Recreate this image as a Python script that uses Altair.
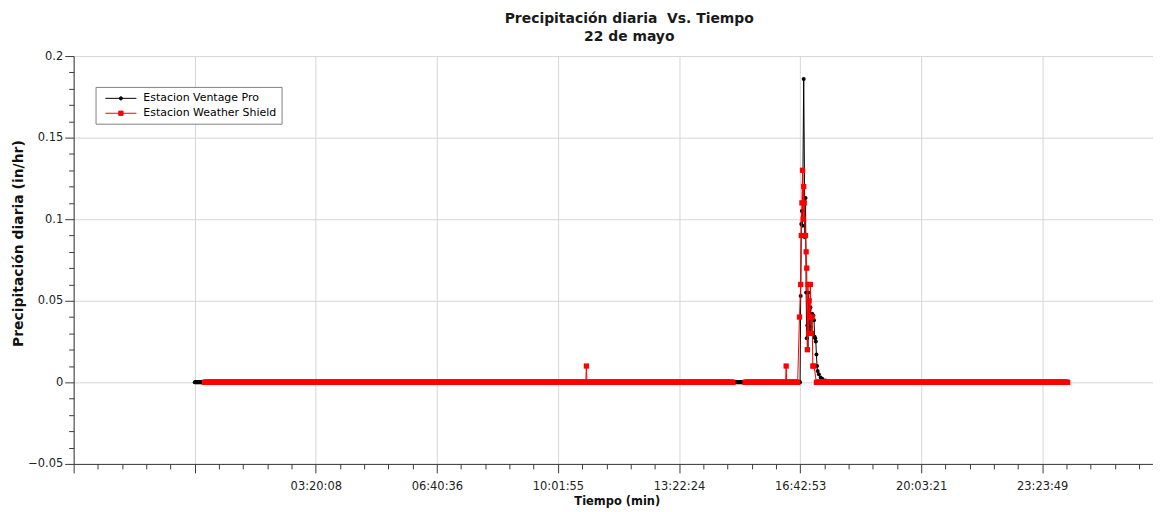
import altair as alt
import pandas as pd

TITLE_LINES = ["Precipitación diaria\u00a0\u00a0Vs. Tiempo", "22 de mayo"]
X_TITLE = "Tiempo (min)"
Y_TITLE = "Precipitación diaria (in/hr)"
SERIES = ["Estacion Ventage Pro", "Estacion Weather Shield"]
COLORS = ["#000000", "#ff0000"]

# x = minutes counted from the first (unlabelled) grid line
X_DOMAIN = [-200, 1583]
X_MAJOR = [-200, 0, 200, 400, 600, 800, 1000, 1200, 1400]
X_LABELS = ["", "", "03:20:08", "06:40:36", "10:01:55", "13:22:24",
            "16:42:53", "20:03:21", "23:23:49"]
X_MINOR = [-160, -120, -80, -40, 40, 80, 120, 160, 240, 280, 320, 360,
           440, 480, 520, 560, 640, 680, 720, 760, 840, 880, 920, 960,
           1040, 1080, 1120, 1160, 1240, 1280, 1320, 1360, 1440, 1480,
           1520, 1560]
Y_DOMAIN = [-0.05, 0.2]
Y_MAJOR = [-0.05, 0, 0.05, 0.1, 0.15, 0.2]
Y_LABELS = ["\u22120.05", "0", "0.05", "0.1", "0.15", "0.2"]
Y_MINOR = [-0.04, -0.03, -0.02, -0.01, 0.01, 0.02, 0.03, 0.04,
           0.06, 0.07, 0.08, 0.09, 0.11, 0.12, 0.13, 0.14,
           0.16, 0.17, 0.18, 0.19]

# Estacion Ventage Pro (one reading per minute)
VP_ZERO_SPANS = [(0, 999), (1049, 1442)]
VP_PEAK_T = [1000, 1001, 1002, 1003, 1004, 1006, 1008, 1009, 1010, 1011,
             1012, 1013, 1014, 1015, 1016, 1017, 1018, 1020, 1022, 1023,
             1024, 1025, 1026, 1027, 1028, 1029, 1031, 1034, 1037, 1042, 1048]
VP_PEAK_V = [0.0, 0.053, 0.097, 0.105, 0.096, 0.186, 0.089, 0.113, 0.055, 0.027,
             0.035, 0.020, 0.055, 0.032, 0.045, 0.046, 0.034, 0.042, 0.041, 0.038,
             0.028, 0.027, 0.025, 0.017, 0.010, 0.007, 0.005, 0.003, 0.002, 0.0012, 0.0004]

# Estacion Weather Shield (one reading per minute, gap 890-908)
WS_ZERO_SPANS = [(16, 889), (909, 996), (1027, 1442)]
WS_SPIKE_T = [647, 977]
WS_SPIKE_V = [0.01, 0.01]
WS_PEAK_T = [999, 1001, 1002, 1003, 1004, 1005, 1006, 1007, 1009, 1010, 1011,
             1012, 1013, 1014, 1015, 1016, 1017, 1018, 1019, 1020, 1021, 1023]
WS_PEAK_V = [0.04, 0.06, 0.09, 0.11, 0.13, 0.10, 0.12, 0.11, 0.09, 0.08, 0.07,
             0.02, 0.06, 0.03, 0.05, 0.04, 0.06, 0.04, 0.03, 0.04, 0.01, 0.01]
WS_GAP = (889, 909)


def build(zero_spans, extra_t, extra_v):
    vals = {}
    for a, b in zero_spans:
        for t in range(a, b + 1):
            vals[t] = 0.0
    for t, v in zip(extra_t, extra_v):
        vals[t] = v
    ts = sorted(vals)
    return pd.DataFrame({"t": ts, "v": [vals[t] for t in ts]})


vp = build(VP_ZERO_SPANS, VP_PEAK_T, VP_PEAK_V)
vp["seg"] = 0
ws = build(WS_ZERO_SPANS, WS_SPIKE_T + WS_PEAK_T, WS_SPIKE_V + WS_PEAK_V)
ws["seg"] = (ws["t"] >= WS_GAP[1]).astype(int)

FONT = "DejaVu Sans"
AX = "#3a3a3a"

x_scale = alt.Scale(domain=X_DOMAIN, nice=False, zero=False)
y_scale = alt.Scale(domain=Y_DOMAIN, nice=False, zero=False)

x_lab_expr = "%s[round((datum.value + 200) / 200)]" % str(X_LABELS)
y_lab_expr = "%s[round((datum.value + 0.05) / 0.05)]" % str(Y_LABELS)

x_major = alt.X("t:Q", scale=x_scale, axis=alt.Axis(
    values=X_MAJOR, labelExpr=x_lab_expr, title=X_TITLE, grid=True,
    tickSize=9, labelPadding=8, titlePadding=3, titleX=546, labelFlush=False,
    labelOverlap=False, orient="bottom", titleFontSize=11.5))
y_major = alt.Y("v:Q", scale=y_scale, axis=alt.Axis(
    values=Y_MAJOR, labelExpr=y_lab_expr, title=Y_TITLE, grid=True,
    tickSize=9, labelPadding=2, titleX=-48, titleY=188, labelFlush=False,
    labelOverlap=False, orient="left", titleFontSize=14))
x_minor = alt.X("t:Q", scale=x_scale, axis=alt.Axis(
    values=X_MINOR, labels=False, grid=False, domain=False, tickSize=5,
    title="", orient="bottom"))
y_minor = alt.Y("v:Q", scale=y_scale, axis=alt.Axis(
    values=Y_MINOR, labels=False, grid=False, domain=False, tickSize=5,
    title="", orient="left"))
x_none = alt.X("t:Q", scale=x_scale, axis=None)
y_none = alt.Y("v:Q", scale=y_scale, axis=None)

vp_line = alt.Chart(vp).mark_line(color=COLORS[0], strokeWidth=1).encode(
    x=x_major, y=y_major, detail="seg:N")
vp_pts = alt.Chart(vp).mark_point(filled=True, shape="circle", size=16,
                                  color=COLORS[0], opacity=1).encode(
    x=x_minor, y=y_minor)
ws_line = alt.Chart(ws).mark_line(color=COLORS[1], strokeWidth=1).encode(
    x=x_none, y=y_none, detail="seg:N")
ws_pts = alt.Chart(ws).mark_point(filled=True, shape="square", size=28,
                                  color=COLORS[1], opacity=1).encode(
    x=x_none, y=y_none)

SHAPES = [
    "M-2.6,0L2.6,0M-0.27,0A0.27,0.27,0,1,0,0.27,0A0.27,0.27,0,1,0,-0.27,0Z",
    "M-2.6,0L2.6,0M-0.36,-0.36L0.36,-0.36L0.36,0.36L-0.36,0.36Z",
]
leg = alt.Legend(title=None, orient="none", legendX=22, legendY=31,
                 padding=5, strokeColor="#808080", fillColor="white",
                 labelFont=FONT, labelFontSize=11, labelColor="#000000",
                 symbolSize=144, symbolStrokeWidth=1, symbolOffset=14,
                 labelOffset=16, rowPadding=3, cornerRadius=0)
leg_df = pd.DataFrame({"s": SERIES})
legend_layer = alt.Chart(leg_df).transform_filter("false").mark_point(
    filled=True, opacity=1, strokeWidth=1).encode(
    fill=alt.Fill("s:N", scale=alt.Scale(domain=SERIES, range=COLORS), legend=leg),
    stroke=alt.Stroke("s:N", scale=alt.Scale(domain=SERIES, range=COLORS), legend=leg),
    shape=alt.Shape("s:N", scale=alt.Scale(domain=SERIES, range=SHAPES), legend=leg),
)

chart = alt.layer(vp_line, vp_pts, ws_line, ws_pts, legend_layer).resolve_axis(
    x="independent", y="independent"
).properties(
    width=1085, height=410,
    padding={"left": 4, "top": 3, "right": 0, "bottom": 0},
    title=alt.TitleParams(text=TITLE_LINES, font=FONT, fontSize=14,
                          fontWeight="bold", color="#1a1a1a", anchor="middle",
                          frame="group", dx=16, offset=6, lineHeight=18),
).configure_view(stroke=None).configure_axis(
    labelFont=FONT, labelFontSize=11.5, labelColor="#222222",
    titleFont=FONT, titleFontWeight="bold", titleColor="#111111",
    domainColor=AX, tickColor=AX, gridColor="#d6d6d6", gridWidth=1,
)

chart.save("out.html", embed_options={"renderer": "svg", "actions": False})
